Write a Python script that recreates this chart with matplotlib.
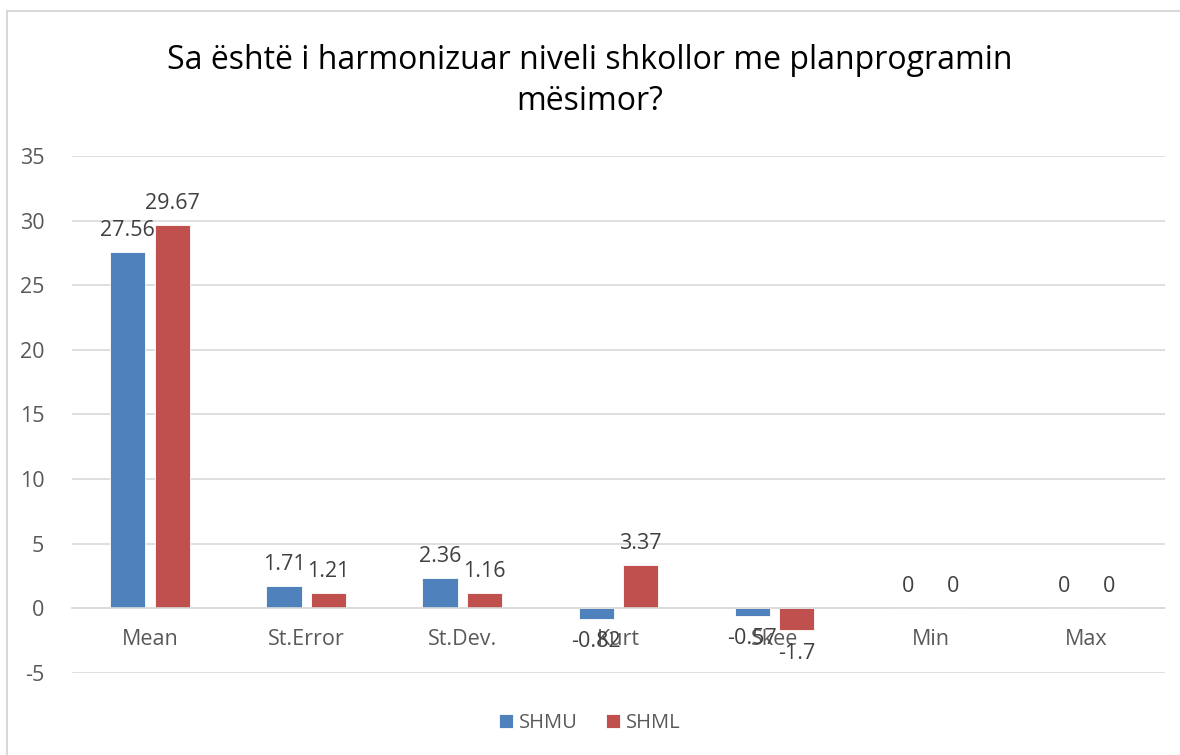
""" plot.py """

import numpy as np
import matplotlib.pyplot as plt
from matplotlib.patches import Rectangle

plt.rcParams['font.family'] = ['Open Sans', 'DejaVu Sans']

# Data
categories: list[str] = ["Mean", "St.Error", "St.Dev.", "Kurt", "Skeë", "Min", "Max"]
shmu: list[float] = [27.56, 1.71, 2.36, -0.82, -0.57, 0, 0]
shml: list[float] = [29.67, 1.21, 1.16, 3.37, -1.7, 0, 0]
labels_shmu: list[str] = ["27.56", "1.71", "2.36", "-0.82", "-0.57", "0", "0"]
labels_shml: list[str] = ["29.67", "1.21", "1.16", "3.37", "-1.7", "0", "0"]
yticks: list[int] = [-5, 0, 5, 10, 15, 20, 25, 30, 35]

c_blue = '#4F81BD'
c_red = '#C0504D'
txt = '#404040'

fig = plt.figure(figsize=(11.8, 7.55), dpi=100)
ax = fig.add_axes([0.061, 0.1086, 0.926, 0.6848])

# Chart border (top and left visible)
fig.add_artist(Rectangle((7 / 1180, -0.1), 1.2, 1 - 11 / 755 + 0.1,
                         transform=fig.transFigure, fill=False,
                         edgecolor='#d9d9d9', lw=1.5))

x = np.arange(len(categories))
w = 0.225
off = 0.142
b1 = ax.bar(x - off, shmu, w, color=c_blue, edgecolor='white', lw=0.6, label='SHMU', zorder=3)
b2 = ax.bar(x + off, shml, w, color=c_red, edgecolor='white', lw=0.6, label='SHML', zorder=3)

for bars, labs in [(b1, labels_shmu), (b2, labels_shml)]:
    for rect, lab in zip(bars, labs):
        v = rect.get_height()
        cx = rect.get_x() + rect.get_width() / 2
        if v < 0:
            ax.annotate(lab, (cx, v), xytext=(0, -9), textcoords='offset points',
                        ha='center', va='top', fontsize=15.5, color=txt, zorder=4)
        else:
            ax.annotate(lab, (cx, v), xytext=(0, 8), textcoords='offset points',
                        ha='center', va='bottom', fontsize=15.5, color=txt, zorder=4)

ax.set_xlim(-0.5, len(categories) - 0.5)
ax.set_ylim(-5, 35)
ax.set_yticks(yticks)
ax.set_yticklabels([str(t) for t in yticks])
ax.yaxis.grid(True, color='#d9d9d9', lw=1.2, zorder=0)
ax.set_axisbelow(True)

ax.set_xticks(x)
ax.set_xticklabels(categories)
for s in ['top', 'right', 'left']:
    ax.spines[s].set_visible(False)
ax.spines['bottom'].set_position(('data', 0))
ax.spines['bottom'].set_color('#d9d9d9')
ax.spines['bottom'].set_linewidth(1.2)
ax.spines['bottom'].set_zorder(5)
ax.tick_params(axis='x', length=0, pad=15, labelsize=15.5, labelcolor='#595959')
ax.tick_params(axis='y', length=0, pad=20, labelsize=15.5, labelcolor='#595959')

fig.text(0.5, 0.893, "Sa është i harmonizuar niveli shkollor me planprogramin\nmësimor?",
         ha='center', va='center', fontsize=23, color='black', linespacing=1.3)

ax.legend(loc='center', bbox_to_anchor=(0.5, 1 - 723 / 755), bbox_transform=fig.transFigure,
          ncol=2, frameon=False, fontsize=14.5, handlelength=0.7, handleheight=0.7,
          handletextpad=0.3, columnspacing=1.4, labelcolor='#595959')

fig.savefig('out.png', dpi=100)
